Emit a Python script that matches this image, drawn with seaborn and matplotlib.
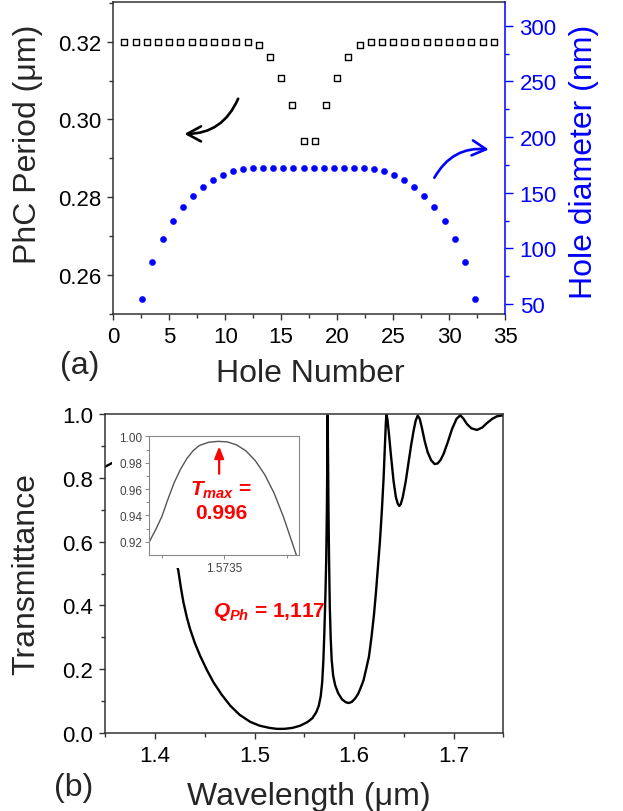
import matplotlib
matplotlib.use("Agg")
import matplotlib.pyplot as plt
import seaborn as sns
from matplotlib.ticker import MultipleLocator, FixedLocator, FixedFormatter
from matplotlib.patches import Rectangle

# (a) period and hole diameter vs. hole number
hole_number = [1, 2, 3, 4, 5, 6, 7, 8, 9, 10, 11, 12, 13, 14, 15, 16, 17,
               18, 19, 20, 21, 22, 23, 24, 25, 26, 27, 28, 29, 30, 31, 32, 33, 34]
period_um = [0.320, 0.320, 0.320, 0.320, 0.320, 0.320, 0.320, 0.320, 0.320,
             0.320, 0.320, 0.320, 0.3192, 0.3160, 0.3107, 0.3037, 0.2945,
             0.2945, 0.3037, 0.3107, 0.3160, 0.3192, 0.320, 0.320, 0.320,
             0.320, 0.320, 0.320, 0.320, 0.320, 0.320, 0.320, 0.320, 0.320]

diam_pos = [2.6, 3.5, 4.4, 5.3, 6.2, 7.1, 8.0, 8.9, 9.8, 10.7, 11.6, 12.5,
            13.4, 14.3, 15.2, 16.1, 17.0, 17.9, 18.8, 19.7, 20.6, 21.5, 22.4,
            23.3, 24.2, 25.1, 26.0, 26.9, 27.8, 28.7, 29.6, 30.5, 31.4, 32.3]
diameter_nm = [54.8, 87.5, 108.7, 124.9, 137.2, 147.4, 155.2, 161.5, 166.3,
               169.6, 171.4, 172.0, 172.0, 172.0, 172.0, 172.0, 172.0, 172.0,
               172.0, 172.0, 172.0, 172.0, 172.0, 171.4, 169.6, 166.3, 161.5,
               155.2, 147.4, 137.2, 124.9, 108.7, 87.5, 54.8]

# (b) transmission spectrum
wavelength_um = [
    1.350, 1.356, 1.370, 1.385, 1.400, 1.412, 1.4234, 1.4260, 1.4285, 1.4320,
    1.4352, 1.4400, 1.4453, 1.4520, 1.4587, 1.4670, 1.4755, 1.4850, 1.4956,
    1.5050, 1.5150, 1.5224, 1.5300, 1.5380, 1.5459, 1.5530, 1.5580, 1.5620,
    1.5645, 1.5665, 1.5680, 1.5692, 1.5702, 1.5712, 1.5720, 1.5727, 1.5731,
    1.5734, 1.5735, 1.5736, 1.5739, 1.5743, 1.5749, 1.5756, 1.5765, 1.5775,
    1.5790, 1.5810, 1.5840, 1.5880, 1.5920, 1.5945, 1.5975, 1.6010, 1.6040,
    1.6062, 1.6095, 1.6125, 1.6150, 1.6175, 1.6200, 1.6220, 1.6240, 1.6260,
    1.6280, 1.6297, 1.6310, 1.6320, 1.6326, 1.6335, 1.6350, 1.6371, 1.6397,
    1.6420, 1.6440, 1.6455, 1.6470, 1.6490, 1.6520, 1.6548, 1.6575, 1.6600,
    1.6620, 1.6640, 1.6660, 1.6683, 1.6710, 1.6740, 1.6775, 1.6810, 1.6840,
    1.6870, 1.6900, 1.6940, 1.6985, 1.7030, 1.7068, 1.7100, 1.7136, 1.7180,
    1.7236, 1.7290, 1.7337, 1.7390, 1.7438, 1.7500]
transmittance = [
    0.835, 0.845, 0.870, 0.850, 0.760, 0.650, 0.509, 0.455, 0.410, 0.362,
    0.326, 0.282, 0.242, 0.198, 0.159, 0.120, 0.086, 0.057, 0.035,
    0.023, 0.016, 0.013, 0.013, 0.016, 0.023, 0.034, 0.046, 0.065,
    0.085, 0.115, 0.160, 0.230, 0.320, 0.430, 0.540, 0.700, 0.850,
    0.960, 0.996, 0.960, 0.850, 0.700, 0.540, 0.400, 0.300, 0.230,
    0.180, 0.150, 0.125, 0.105, 0.096, 0.094, 0.097, 0.108, 0.122,
    0.138, 0.165, 0.205, 0.240, 0.300, 0.370, 0.440, 0.520, 0.600,
    0.700, 0.800, 0.900, 0.975, 0.998, 0.985, 0.940, 0.870, 0.790,
    0.740, 0.718, 0.712, 0.718, 0.740, 0.790, 0.849, 0.905, 0.950,
    0.980, 0.995, 0.985, 0.955, 0.915, 0.880, 0.855, 0.843, 0.845,
    0.856, 0.875, 0.910, 0.953, 0.985, 0.996, 0.985, 0.968, 0.955,
    0.950, 0.958, 0.972, 0.985, 0.993, 0.996]

# inset: zoom on the resonance
inset_wl = [1.57326, 1.57328, 1.57330, 1.57332, 1.57334, 1.57336, 1.57338,
            1.57340, 1.57342, 1.57345, 1.57348, 1.57351, 1.57354, 1.57357,
            1.57360, 1.57363, 1.57366, 1.57369, 1.57372, 1.57374]
inset_t = [0.920, 0.929, 0.939, 0.9525, 0.9650, 0.9750, 0.9830, 0.9890,
           0.9930, 0.9955, 0.9962, 0.9958, 0.9935, 0.9890, 0.9815, 0.9710,
           0.9570, 0.9390, 0.9180, 0.9040]

sns.set_style("ticks")
plt.rcParams["font.family"] = ["Liberation Sans", "DejaVu Sans"]
plt.rcParams["mathtext.fontset"] = "custom"
plt.rcParams["mathtext.it"] = "Liberation Sans:italic:bold"
plt.rcParams["mathtext.rm"] = "Liberation Sans:bold"
plt.rcParams["mathtext.bf"] = "Liberation Sans:bold"

W, H = 623, 812
fig = plt.figure(figsize=(W / 100, H / 100), dpi=100)
frame = "#333333"
blue = "#0000ff"
label_size = 23


def px(x, y):
    return x / W, 1 - y / H


def style_ax(ax, color=frame):
    for sp in ax.spines.values():
        sp.set_color(color)
        sp.set_linewidth(1.1)
    ax.tick_params(which="both", direction="out", colors=color, labelsize=16,
                   width=1.0, pad=4)
    ax.tick_params(which="major", length=4.5)
    ax.tick_params(which="minor", length=2.8)
    ax.tick_params(labelcolor="black")


# ---------------- panel (a)
ax1 = fig.add_axes([113.3 / W, 1 - 315 / H, 391.7 / W, 312 / H])
ax1r = ax1.twinx()

sns.scatterplot(x=hole_number, y=period_um, ax=ax1, marker="s", s=14,
                color="white", edgecolor="black", linewidth=1.0, zorder=3)
sns.scatterplot(x=diam_pos, y=diameter_nm, ax=ax1r, marker="o", s=20,
                color=blue, edgecolor=blue, linewidth=0.3, zorder=3)

ax1.set_xlim(0, 35)
ax1.set_ylim(0.25, 0.3302)
ax1r.set_ylim(41, 321.3)
ax1.xaxis.set_major_locator(MultipleLocator(5))
ax1.xaxis.set_minor_locator(MultipleLocator(2.5))
ax1.yaxis.set_major_locator(MultipleLocator(0.02))
ax1.yaxis.set_minor_locator(MultipleLocator(0.01))
ax1r.yaxis.set_major_locator(MultipleLocator(50))
ax1r.yaxis.set_minor_locator(MultipleLocator(25))
ax1.yaxis.set_major_formatter(plt.FormatStrFormatter("%.2f"))
style_ax(ax1)
ax1.tick_params(top=False, right=False)
ax1.spines["right"].set_visible(False)
ax1r.spines["left"].set_visible(False)
ax1r.spines["top"].set_visible(False)
ax1r.spines["bottom"].set_visible(False)
ax1r.spines["right"].set_color(blue)
ax1r.spines["right"].set_linewidth(1.1)
ax1r.tick_params(which="both", direction="out", colors=blue, labelsize=16,
                 width=1.0, pad=5)
ax1r.tick_params(which="major", length=5.5)
ax1r.tick_params(which="minor", length=3)
for a in (ax1, ax1r):
    a.set_xlabel("")
    a.set_ylabel("")

ax1.annotate("", xy=(6.11, 0.2963), xytext=(11.25, 0.3060),
             arrowprops=dict(arrowstyle="->,head_length=0.55,head_width=0.3",
                             color="black", lw=1.9, mutation_scale=18,
                             connectionstyle="arc3,rad=-0.35"))
ax1.annotate("", xy=(33.79, 0.2922), xytext=(28.57, 0.2844),
             arrowprops=dict(arrowstyle="->,head_length=0.55,head_width=0.3",
                             color=blue, lw=1.9, mutation_scale=18,
                             connectionstyle="arc3,rad=-0.35"))

fig.text(*px(28, 144), "PhC Period (μm)", rotation=90, ha="center",
         va="center", fontsize=label_size)
fig.text(*px(584, 162), "Hole diameter (nm)", rotation=90, ha="center",
         va="center", fontsize=label_size, color=blue)
fig.text(*px(310, 374), "Hole Number", ha="center", va="center",
         fontsize=label_size)
fig.text(*px(80, 366), "(a)", ha="center", va="center", fontsize=label_size)

# ---------------- panel (b)
ax2 = fig.add_axes([105.3 / W, 1 - 734 / H, 398 / W, 319 / H])
sns.lineplot(x=wavelength_um, y=transmittance, ax=ax2, color="black",
             linewidth=1.7, estimator=None, sort=False, zorder=2)
ax2.set_xlim(1.35, 1.75)
ax2.set_ylim(0, 1.0)
ax2.xaxis.set_major_locator(MultipleLocator(0.1))
ax2.xaxis.set_minor_locator(MultipleLocator(0.05))
ax2.yaxis.set_major_locator(MultipleLocator(0.2))
ax2.yaxis.set_minor_locator(MultipleLocator(0.1))
ax2.xaxis.set_major_formatter(plt.FormatStrFormatter("%.1f"))
ax2.yaxis.set_major_formatter(plt.FormatStrFormatter("%.1f"))
style_ax(ax2)
ax2.set_xlabel("")
ax2.set_ylabel("")
# white backing behind the inset and its labels
ax2.add_patch(Rectangle((1.3567, 0.517), 0.1915, 0.445, facecolor="white",
                        edgecolor="none", zorder=3))
ax2.text(1.4584, 0.382, "$Q_{Ph}$ = 1,117", color="red", fontsize=15,
         fontweight="bold", ha="left", va="center", zorder=4)

fig.text(*px(26, 574), "Transmittance", rotation=90, ha="center",
         va="center", fontsize=label_size)
fig.text(*px(309, 797), "Wavelength (μm)", ha="center", va="center",
         fontsize=label_size)
fig.text(*px(74, 788), "(b)", ha="center", va="center", fontsize=label_size)

# ---------------- inset
axin = fig.add_axes([149.3 / W, 1 - 555.7 / H, 149.7 / W, 119 / H])
sns.lineplot(x=inset_wl, y=inset_t, ax=axin, color="#555555", linewidth=1.0,
             estimator=None, sort=False)
axin.set_xlim(1.57326, 1.57374)
axin.set_ylim(0.9102, 1.0005)
axin.xaxis.set_major_locator(FixedLocator([1.5735]))
axin.xaxis.set_major_formatter(FixedFormatter(["1.5735"]))
axin.xaxis.set_minor_locator(FixedLocator([1.5733, 1.5737]))
axin.yaxis.set_major_locator(MultipleLocator(0.02))
axin.yaxis.set_minor_locator(MultipleLocator(0.01))
axin.yaxis.set_major_formatter(plt.FormatStrFormatter("%.2f"))
for sp in axin.spines.values():
    sp.set_color("#888888")
    sp.set_linewidth(0.8)
axin.tick_params(which="both", direction="out", colors="#888888",
                 labelcolor="#444444", labelsize=8.5, width=0.7, pad=2)
axin.tick_params(which="major", length=3)
axin.tick_params(which="minor", length=2)
axin.set_xlabel("")
axin.set_ylabel("")
axin.annotate("", xy=(1.573484, 0.9945), xytext=(1.573484, 0.9695),
              arrowprops=dict(arrowstyle="-|>,head_length=0.5,head_width=0.2",
                              color="red", lw=1.6, mutation_scale=14))
axin.text(1.57349, 0.9595, "$T_{max}$ =", color="red", fontsize=15,
          fontweight="bold", ha="center", va="center")
axin.text(1.57349, 0.9420, "0.996", color="red", fontsize=15,
          fontweight="bold", ha="center", va="center")

fig.savefig("out.png", dpi=100)
